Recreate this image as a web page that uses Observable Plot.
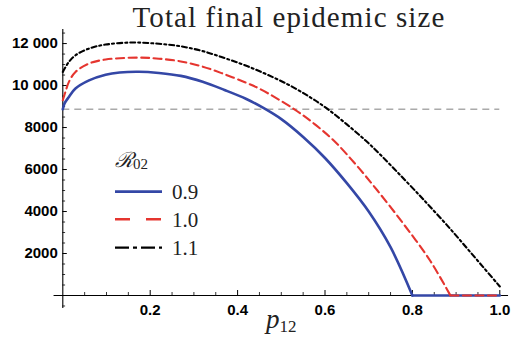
<!DOCTYPE html>
<html>
<head>
<meta charset="utf-8">
<script src="https://cdn.jsdelivr.net/npm/d3@7"></script>
<script src="https://cdn.jsdelivr.net/npm/@observablehq/plot@0.6"></script>
<style>
  html, body { margin: 0; padding: 0; background: #fff; }
  #chart { width: 514px; height: 338px; }
</style>
</head>
<body>
<div id="chart"></div>
<script>
// ---- data ----
const seriesLabels = ["0.9", "1.0", "1.1"];
const seriesColors = ["#3447a6", "#e5352f", "#000000"];

const p_R09 = [0, 0.004, 0.014, 0.029, 0.06, 0.098, 0.13, 0.174, 0.22, 0.27, 0.32, 0.37, 0.42, 0.46, 0.5, 0.55, 0.6, 0.65, 0.7, 0.75, 0.8, 0.85, 0.9, 0.95, 1.0];
const size_R09 = [8870, 9150, 9460, 9860, 10250, 10520, 10625, 10660, 10600, 10460, 10180, 9790, 9360, 8920, 8400, 7550, 6550, 5350, 4000, 2300, 0, 0, 0, 0, 0];

const p_R10 = [0, 0.006, 0.014, 0.029, 0.06, 0.098, 0.174, 0.22, 0.27, 0.32, 0.37, 0.42, 0.45, 0.53, 0.58, 0.62, 0.67, 0.72, 0.78, 0.84, 0.887, 0.92, 0.96, 1.0];
const size_R10 = [9300, 9700, 10175, 10650, 11050, 11240, 11330, 11280, 11150, 10900, 10540, 10130, 9850, 8870, 8100, 7381, 6250, 5000, 3400, 1680, 0, 0, 0, 0];

const p_R11 = [0, 0.014, 0.029, 0.06, 0.098, 0.16, 0.22, 0.27, 0.32, 0.37, 0.42, 0.47, 0.52, 0.567, 0.605, 0.65, 0.693, 0.727, 0.77, 0.815, 0.84, 0.88, 0.92, 0.96, 1.0];
const size_R11 = [10650, 11127, 11444, 11762, 11952, 12050, 11990, 11870, 11640, 11310, 10940, 10500, 10000, 9430, 8900, 8150, 7381, 6700, 5780, 4800, 4240, 3330, 2370, 1400, 430];

const referenceSize = 8870;

const xMajorTicks = [0.2, 0.4, 0.6, 0.8, 1.0];
const xTickLabels = ["0.2", "0.4", "0.6", "0.8", "1.0"];
const yMajorTicks = [2000, 4000, 6000, 8000, 10000, 12000];
const yTickLabels = ["2000", "4000", "6000", "8000", "10 000", "12 000"];

const xAxisExtent = [-0.02, 1.02];
const yAxisExtent = [-620, 12670];

const titleText = "Total final epidemic size";

// ---- build tables ----
function table(ps, vs, k) { return ps.map((p, i) => ({p, v: vs[i], k})); }
const all = [table(p_R09, size_R09, 0), table(p_R10, size_R10, 1), table(p_R11, size_R11, 2)];
const curved = [], flat = [];
all.forEach(rows => {
  const iz = rows.findIndex(r => r.v === 0);
  if (iz < 0) { curved.push(rows); flat.push([]); }
  else { curved.push(rows.slice(0, iz + 1)); flat.push(rows.slice(iz)); }
});

const xMinorTicks = d3.range(1, 20).filter(i => i % 4 !== 0).map(i => i / 20);
const yMinorTicks = d3.range(-1, 26).filter(i => i % 4 !== 0).map(i => i * 500);

const W = 514, H = 338;
const mL = 62.3, mR = 14.7, mT = 29, mB = 43;
const frameW = W - mL - mR, frameH = H - mT - mB;

const dashes = [null, "8,4.5", "5,3,2,3"];
const widths = [2.6, 2.1, 2.1];
const tickFont = "Liberation Sans, Arial, sans-serif";
const serif = "Liberation Serif, Times New Roman, serif";

const marks = [];
marks.push(Plot.ruleY([0], {x1: xAxisExtent[0], x2: xAxisExtent[1], stroke: "#000", strokeWidth: 1.1}));
marks.push(Plot.ruleX([0], {y1: yAxisExtent[0], y2: yAxisExtent[1], stroke: "#000", strokeWidth: 1.1}));
marks.push(Plot.tickX(xMajorTicks, {x: d => d, insetTop: frameH - 5, stroke: "#000", strokeWidth: 1}));
marks.push(Plot.tickX(xMinorTicks, {x: d => d, insetTop: frameH - 3, stroke: "#000", strokeWidth: 0.8}));
marks.push(Plot.tickY(yMajorTicks, {y: d => d, insetRight: frameW - 4.5, stroke: "#000", strokeWidth: 1}));
marks.push(Plot.tickY(yMinorTicks, {y: d => d, insetRight: frameW - 2.8, stroke: "#000", strokeWidth: 0.8}));
marks.push(Plot.text(xMajorTicks, {x: d => d, y: 0, text: (d, i) => xTickLabels[i], dy: 15, fontWeight: "bold", fontSize: 15, fontFamily: tickFont, fill: "#000"}));
marks.push(Plot.text(yMajorTicks, {x: 0, y: d => d, text: (d, i) => yTickLabels[i], dx: -5, textAnchor: "end", fontWeight: "bold", fontSize: 15, fontFamily: tickFont, fill: "#000"}));
marks.push(Plot.ruleY([referenceSize], {x1: 0, x2: 1, stroke: "#aaaaaa", strokeWidth: 1.6, strokeDasharray: "7,5"}));
[0, 1, 2].forEach(k => {
  if (flat[k].length) marks.push(Plot.line(flat[k], {x: "p", y: "v", stroke: seriesColors[k], strokeWidth: widths[k], strokeDasharray: dashes[k]}));
  marks.push(Plot.line(curved[k], {x: "p", y: "v", stroke: seriesColors[k], strokeWidth: widths[k], strokeDasharray: dashes[k], curve: "catmull-rom"}));
});

const chart = Plot.plot({
  width: W, height: H,
  marginLeft: mL, marginRight: mR, marginTop: mT, marginBottom: mB,
  x: {domain: [0, 1], axis: null},
  y: {domain: [0, yAxisExtent[1]], axis: null},
  style: {background: "#fff", overflow: "visible"},
  marks
});
document.getElementById("chart").appendChild(chart);

// ---- title, axis label and legend ----
const svg = d3.select(chart);
svg.append("text").attr("x", 289).attr("y", 27).attr("text-anchor", "middle")
  .attr("font-family", serif).attr("font-size", 29).attr("letter-spacing", 1.1).attr("fill", "#222").text(titleText);

const xl = svg.append("text").attr("x", 266).attr("y", 328).attr("text-anchor", "start").attr("font-family", serif).attr("fill", "#222");
xl.append("tspan").attr("font-style", "italic").attr("font-size", 27).text("p");
xl.append("tspan").attr("font-size", 17).attr("dy", 4).text("12");

const lt = svg.append("text").attr("x", 115).attr("y", 167).attr("text-anchor", "start").attr("font-family", serif).attr("fill", "#222");
lt.append("tspan").attr("font-style", "italic").attr("font-size", 21).text("\u211B");
lt.append("tspan").attr("font-size", 15).attr("dy", 2).text("02");

const legendDash = [null, "15,16", "14,4,4,4"];
const rowY = [191.7, 219.3, 247.6];
seriesLabels.forEach((lab, k) => {
  svg.append("line").attr("x1", 115).attr("x2", 162).attr("y1", rowY[k]).attr("y2", rowY[k])
    .attr("stroke", seriesColors[k]).attr("stroke-width", k === 0 ? 2.8 : 2.4)
    .attr("stroke-dasharray", legendDash[k]);
  svg.append("text").attr("x", 172).attr("y", rowY[k] + 7.2).attr("text-anchor", "start")
    .attr("font-family", serif).attr("font-size", 21).attr("fill", "#222").text(lab);
});
</script>
</body>
</html>
